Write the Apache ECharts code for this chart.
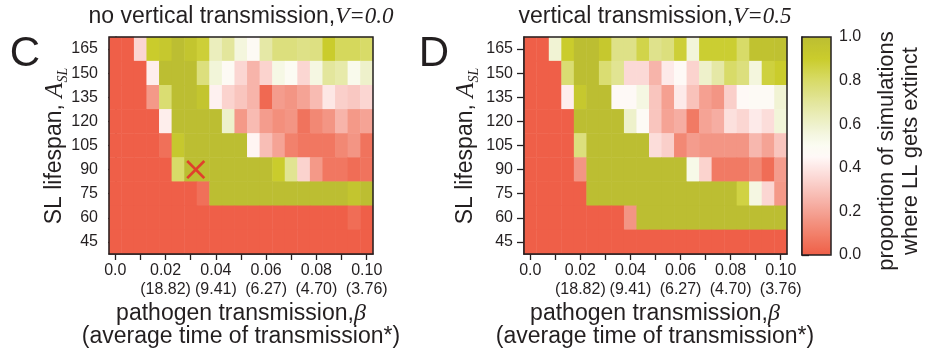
<!DOCTYPE html>
<html>
<head>
<meta charset="utf-8">
<script src="https://cdn.jsdelivr.net/npm/echarts@6/dist/echarts.min.js"></script>
<style>
html,body{margin:0;padding:0;background:#ffffff;}
#chart{width:927px;height:356px;}
</style>
</head>
<body>
<div id="chart"></div>
<script>
// ---------------- data ----------------
const betaValues = ['0.000','0.005','0.010','0.015','0.020','0.025','0.030','0.035','0.040','0.045','0.050',
                    '0.055','0.060','0.065','0.070','0.075','0.080','0.085','0.090','0.095','0.100'];
const lifespans = ['45','60','75','90','105','120','135','150','165'];

const xLabelBetas = ['0.000','0.020','0.040','0.060','0.080','0.100'];
const xLabelMain  = ['0.0','0.02','0.04','0.06','0.08','0.10'];
const xLabelTime  = ['','(18.82)','(9.41)','(6.27)','(4.70)','(3.76)'];
const colorbarTicks = [0, 0.2, 0.4, 0.6, 0.8, 1.0];

// proportion of simulations where LL gets extinct; rows from lifespan 165 (top) down to 45
const extinctV00 = [
  [0,0,0.35,0.9,0.93,1.0,0.95,0.88,0.63,0.7,0.56,0.48,0.68,0.76,0.76,0.74,0.75,0.9,0.82,0.82,0.8],
  [0,0,0,0.42,1,1,1,0.76,0.57,0.48,0.35,0.25,0.34,0.54,0.49,0.35,0.55,0.7,0.67,0.52,0.6],
  [0,0,0,0.17,0.78,1,1,0.95,0.43,0.34,0.3,0.25,0.03,0.18,0.16,0.2,0.27,0.4,0.33,0.31,0.35],
  [0,0,0,0,0.42,1,1,1,1,0.6,0.17,0.27,0.18,0.14,0.16,0.06,0.12,0.16,0.25,0.17,0.2],
  [0,0,0,0,0.05,0.93,1,1,1,1,1,0.44,0.28,0.2,0.1,0.07,0.07,0.07,0.12,0.16,0.06],
  [0,0,0,0,0,0.8,1,1,1,1,1,1,1,0.9,0.72,0.34,0.17,0.07,0.07,0.04,0.06],
  [0,0,0,0,0,0,0,0.05,1,1,1,1,1,1,1,1,1,1,1,0.95,1],
  [0,0,0,0,0,0,0,0,0,0,0,0,0,0,0,0,0,0,0,0.04,0],
  [0,0,0,0,0,0,0,0,0,0,0,0,0,0,0,0,0,0,0,0,0]
];
const extinctV05 = [
  [0,0,0.58,0.9,1.0,1.0,0.93,0.74,0.74,0.85,0.73,0.76,0.88,0.57,0.89,0.89,0.89,0.8,0.97,0.97,0.98],
  [0,0,0,0.78,1,1,0.78,0.72,0.36,0.36,0.25,0.41,0.46,0.34,0.6,0.68,0.8,0.76,0.56,0.87,0.9],
  [0,0,0,0.42,0.93,1,1,0.46,0.46,0.55,0.3,0.19,0.41,0.29,0.19,0.16,0.33,0.46,0.47,0.47,0.58],
  [0,0,0,0,1,1,1,1,0.6,0.47,0.3,0.2,0.23,0.08,0.2,0.23,0.38,0.35,0.41,0.37,0.57],
  [0,0,0,0,0.76,1,1,1,1,1,0.37,0.33,0.12,0.18,0.16,0.16,0.16,0.16,0.26,0.2,0.3],
  [0,0,0,0,0.16,1,1,1,1,1,1,1,1,0.53,0.34,0.08,0.08,0.08,0.12,0.04,0.18],
  [0,0,0,0,0,1,1,1,1,1,1,1,1,1,1,1,1,0.86,0.55,0.35,0.17],
  [0,0,0,0,0,0,0,0,0.16,1,1,1,1,1,1,1,1,1,1,1,1],
  [0,0,0,0,0,0,0,0,0,0,0,0,0,0,0,0,0,0,0,0,0]
];
const markerBeta = 0.032;
const markerLifespan = '90';

// ---------------- style ----------------
const SANS = '"Liberation Sans", Arial, Helvetica, sans-serif';
const SERIF = '"Liberation Serif", "Times New Roman", serif';
const INK = '#231f20';
const scaleColors = ['#ef5f48','#f07059','#f2816c','#f39280','#f5a395','#f7b4aa','#f9c5be','#fbd6d2','#fde7e5','#fff8f7',
                     '#fbfcf2','#f5f7e2','#eef1cb','#e9ecb4','#e3e69c','#dde082','#d8db68','#d1d44a','#cacc2c','#c3c52f','#bcbe32'];

function heatData(matrix) {
  const out = [];
  matrix.forEach((row, r) => {
    const yi = lifespans.length - 1 - r;
    row.forEach((v, xi) => out.push([xi, yi, v]));
  });
  return out;
}

function catX(gridIndex) {
  return {
    type: 'category', gridIndex: gridIndex, data: betaValues, position: 'bottom',
    axisLine: {show: true, lineStyle: {color: INK, width: 1.5}},
    axisTick: {show: true, interval: 1, alignWithLabel: true, length: 6, lineStyle: {color: INK, width: 1.3}},
    axisLabel: {
      interval: 3, margin: 7, fontSize: 16, fontFamily: SANS, color: INK, lineHeight: 19,
      formatter: function (val) {
        const k = xLabelBetas.indexOf(val);
        if (k < 0) return '';
        return xLabelTime[k] ? xLabelMain[k] + '\n' + xLabelTime[k] : xLabelMain[k];
      }
    },
    splitLine: {show: false}
  };
}
function catY(gridIndex) {
  return {
    type: 'category', gridIndex: gridIndex, data: lifespans, position: 'left',
    axisLine: {show: true, lineStyle: {color: INK, width: 1.5}},
    axisTick: {show: true, alignWithLabel: true, length: 7, lineStyle: {color: INK, width: 1.3}},
    axisLabel: {margin: 11, fontSize: 16, fontFamily: SANS, color: INK},
    splitLine: {show: false}
  };
}

function yTitle(x) {
  return {
    type: 'text', x: x, y: 146, rotation: Math.PI / 2, z: 100,
    style: {
      text: '{n|SL lifespan, }{a|A}{s|SL}',
      align: 'center', verticalAlign: 'middle', textAlign: 'center', textVerticalAlign: 'middle',
      rich: {
        n: {fontFamily: SANS, fontSize: 23, fill: INK, color: INK, lineHeight: 30},
        a: {fontFamily: SERIF, fontStyle: 'italic', fontSize: 25, fill: INK, color: INK, lineHeight: 30},
        s: {fontFamily: SERIF, fontStyle: 'italic', fontSize: 14, fill: INK, color: INK, verticalAlign: 'bottom', lineHeight: 16}
      }
    }
  };
}
function xTitle(x) {
  return {
    type: 'text', x: x, y: 325, z: 100,
    style: {
      text: '{n|pathogen transmission,}{b|β}\n{n|(average time of transmission*)}',
      align: 'center', verticalAlign: 'middle', textAlign: 'center', textVerticalAlign: 'middle',
      rich: {
        n: {fontFamily: SANS, fontSize: 23, fill: INK, color: INK, lineHeight: 23},
        b: {fontFamily: SERIF, fontStyle: 'italic', fontSize: 24, fill: INK, color: INK, lineHeight: 23}
      }
    }
  };
}
function panelTitle(x, main, v) {
  return {
    type: 'text', x: x, y: 17, z: 100,
    style: {
      text: '{n|' + main + '}{v|' + v + '}',
      align: 'center', verticalAlign: 'middle', textAlign: 'center', textVerticalAlign: 'middle',
      rich: {
        n: {fontFamily: SANS, fontSize: 23, fill: INK, color: INK},
        v: {fontFamily: SERIF, fontStyle: 'italic', fontSize: 23, fill: INK, color: INK}
      }
    }
  };
}
function panelLetter(x, letter) {
  return {
    type: 'text', x: x, y: 54, z: 100,
    style: {text: letter, fontFamily: SANS, fontSize: 42, fill: INK,
            align: 'center', verticalAlign: 'middle', textAlign: 'center', textVerticalAlign: 'middle'}
  };
}

const frame = {show: true, z: 10, backgroundColor: 'transparent', borderColor: INK, borderWidth: 1.5};

const option = {
  animation: false,
  backgroundColor: '#ffffff',
  grid: [
    Object.assign({left: 109, top: 37, width: 264, height: 217}, frame),
    Object.assign({left: 524, top: 37, width: 263, height: 217}, frame),
    Object.assign({left: 802, top: 37, width: 29, height: 218}, frame)
  ],
  xAxis: [
    catX(0), catX(1),
    {type: 'value', gridIndex: 0, show: false, min: -0.0025, max: 0.1025},
    {type: 'value', gridIndex: 2, show: false, min: 0, max: 1}
  ],
  yAxis: [
    catY(0), catY(1),
    {
      type: 'value', gridIndex: 2, position: 'right', min: 0, max: 1, interval: 0.2,
      axisLine: {show: true, lineStyle: {color: INK, width: 1.5}},
      axisTick: {show: true, length: 7, lineStyle: {color: INK, width: 1.3}},
      axisLabel: {margin: 8, fontSize: 16, fontFamily: SANS, color: INK,
                  formatter: v => colorbarTicks.indexOf(v) >= 0 ? v.toFixed(1) : ''},
      splitLine: {show: false}
    }
  ],
  visualMap: {
    type: 'continuous', min: 0, max: 1, seriesIndex: [0, 1], calculable: false,
    orient: 'vertical', left: 802, top: 37, itemWidth: 29, itemHeight: 218, padding: 0,
    hoverLink: false,
    inRange: {color: scaleColors}
  },
  series: [
    {type: 'heatmap', xAxisIndex: 0, yAxisIndex: 0, data: heatData(extinctV00), itemStyle: {borderWidth: 0}},
    {type: 'heatmap', xAxisIndex: 1, yAxisIndex: 1, data: heatData(extinctV05), itemStyle: {borderWidth: 0}},
    {
      type: 'scatter', xAxisIndex: 2, yAxisIndex: 0, z: 5,
      data: [[markerBeta, markerLifespan]],
      symbol: 'path://M2,0 L10,8 L18,0 L20,2 L12,10 L20,18 L18,20 L10,12 L2,20 L0,18 L8,10 L0,2 Z',
      symbolSize: 19, itemStyle: {color: '#e8202a'}
    }
  ],
  graphic: [
    panelTitle(241, 'no vertical transmission,', 'V=0.0'),
    panelTitle(655, 'vertical transmission,', 'V=0.5'),
    panelLetter(25, 'C'),
    panelLetter(434, 'D'),
    yTitle(55), yTitle(466),
    xTitle(241), xTitle(655),
    {
      type: 'text', x: 899, y: 151, rotation: Math.PI / 2, z: 100,
      style: {text: 'proportion of simulations\nwhere LL gets extinct', fontFamily: SANS, fontSize: 22,
              lineHeight: 24, fill: INK, align: 'center', verticalAlign: 'middle',
              textAlign: 'center', textVerticalAlign: 'middle'}
    }
  ]
};

const chart = echarts.init(document.getElementById('chart'), null, {renderer: 'canvas'});
chart.setOption(option);
</script>
</body>
</html>
